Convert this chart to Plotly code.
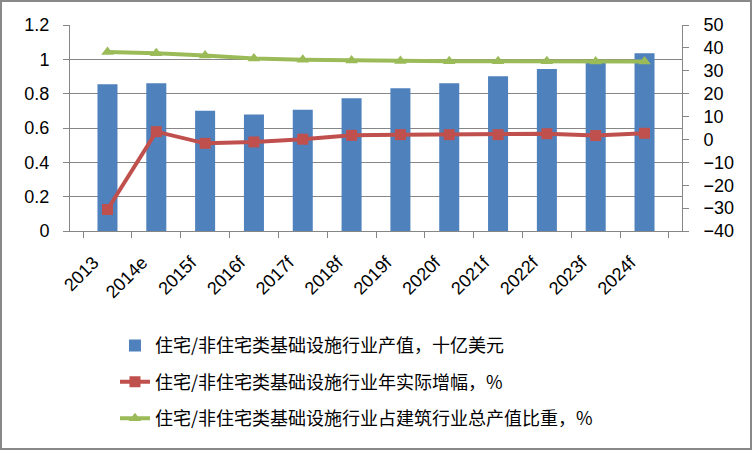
import plotly.graph_objects as go

categories = ["2013", "2014e", "2015f", "2016f", "2017f", "2018f", "2019f",
              "2020f", "2021f", "2022f", "2023f", "2024f"]
output_bn_usd = [0.855, 0.86, 0.70, 0.678, 0.707, 0.774, 0.832, 0.861, 0.902, 0.943, 0.985, 1.035]
real_growth_pct = [-30.6, 3.4, -1.7, -1.1, 0.1, 1.8, 2.1, 2.1, 2.1, 2.5, 1.7, 2.7]
share_pct = [38.2, 37.7, 36.7, 35.4, 34.8, 34.5, 34.3, 34.2, 34.2, 34.2, 34.1, 34.1]

names = ["住宅/非住宅类基础设施行业产值，十亿美元",
         "住宅/非住宅类基础设施行业年实际增幅，%",
         "住宅/非住宅类基础设施行业占建筑行业总产值比重，%"]

L, R, T, B = 70, 71, 25, 220
W, H = 753, 451
pw = W - L - R
ph = H - T - B

fig = go.Figure()
fig.add_trace(go.Bar(x=categories, y=output_bn_usd, name=names[0],
                     marker=dict(color="#4F81BD", line=dict(width=0)),
                     legendgroup="a", yaxis="y"))
fig.add_trace(go.Scatter(x=categories, y=real_growth_pct, name=names[1], mode="lines+markers",
                         line=dict(color="#C0504D", width=4),
                         marker=dict(symbol="square", size=11, color="#C0504D"),
                         legendgroup="b", yaxis="y2"))
fig.add_trace(go.Scatter(x=categories, y=share_pct, name=names[2], mode="lines+markers",
                         line=dict(color="#9BBB59", width=4),
                         marker=dict(symbol="triangle-up", size=11, color="#9BBB59"),
                         legendgroup="c", yaxis="y2"))

axis_font = dict(family="Liberation Sans, Arial, sans-serif", size=18, color="#000000")

fig.update_layout(
    width=W, height=H,
    margin=dict(l=L, r=R, t=T, b=B, autoexpand=False),
    paper_bgcolor="white", plot_bgcolor="white",
    bargap=0.59,
    showlegend=True,
    legend=dict(x=0.0735, xanchor="left", y=-0.467, yanchor="top",
                orientation="v", traceorder="grouped", tracegroupgap=10,
                font=dict(family="Noto Sans CJK SC, sans-serif", size=18, color="#000000"),
                bgcolor="rgba(0,0,0,0)"),
    xaxis=dict(type="category", tickangle=-45, tickfont=axis_font,
               showline=True, linecolor="#868686", linewidth=1,
               ticks="outside", ticklen=6, tickcolor="#868686", tickson="boundaries",
               ticklabelstandoff=13, ticklabelshift=-14,
               showgrid=False, zeroline=False),
    yaxis=dict(range=[0, 1.2], dtick=0.2, tick0=0, tickfont=axis_font,
               showline=True, linecolor="#868686", linewidth=1,
               ticks="outside", ticklen=6, tickcolor="#868686", ticklabelstandoff=10,
               showgrid=True, gridcolor="#868686", gridwidth=1, zeroline=False),
    yaxis2=dict(range=[-40, 50], dtick=10, tick0=0, tickfont=axis_font,
                overlaying="y", side="right",
                showline=True, linecolor="#868686", linewidth=1,
                ticks="outside", ticklen=6, tickcolor="#868686", ticklabelstandoff=11,
                showgrid=False, zeroline=False),
    shapes=[dict(type="rect", xref="paper", yref="paper",
                 x0=(1 - L) / pw, x1=(W - 2 - L) / pw,
                 y0=(H - B - (H - 2)) / ph, y1=(H - B - 1) / ph,
                 line=dict(color="#898989", width=2), fillcolor="rgba(0,0,0,0)",
                 layer="below")],
)

fig.write_html("out.html", config={"displayModeBar": False},
               post_script="document.body.style.margin='0';")
